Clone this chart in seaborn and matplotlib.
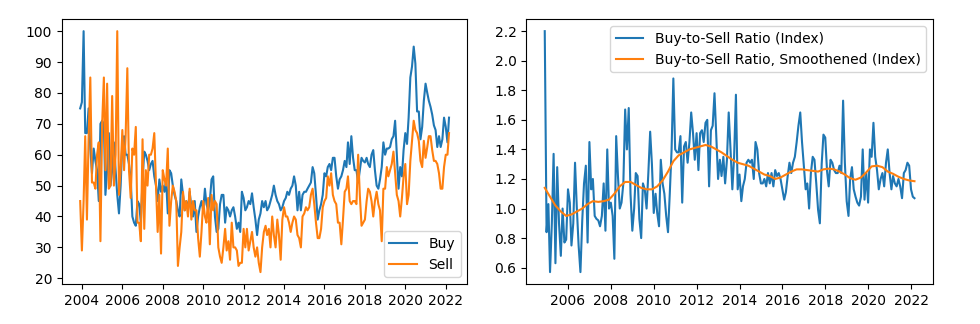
import numpy as np
import pandas as pd
import matplotlib
matplotlib.use("Agg")
import matplotlib.pyplot as plt
import seaborn as sns

# ---------------- data ----------------
buy = [
    75, 77, 100, 67, 67, 75, 62, 54, 62, 58,
    55, 45, 70, 71, 70, 47, 55, 67, 50, 55,
    64, 55, 47, 41, 50, 64, 66, 60, 60, 57,
    52, 40, 38, 37, 45, 44, 38, 52, 61, 60,
    58, 55, 57, 58, 53, 50, 45, 52, 48, 50,
    48, 52, 41, 55, 54, 50, 47, 45, 42,
    40, 52, 47, 42, 45, 42, 48, 43, 40, 45,
    35, 40, 43, 45, 42, 49, 44, 42, 45, 52,
    53, 40, 35, 36, 44, 47, 47, 38, 43, 42,
    40, 42, 43, 40, 36, 38, 35, 48, 46, 42,
    43, 45,
    44, 47.5, 43, 39, 34, 39, 41, 45, 43, 45,
    42, 43, 45, 47, 50, 47, 45, 44, 42, 43,
    45, 46, 48, 47, 49, 50, 53, 50, 42, 48,
    42, 47, 48, 48, 49, 50, 51, 56, 54, 47,
    39, 42, 44, 47, 54, 53, 56, 57, 55, 59,
    59, 53, 49, 52, 53, 55, 58, 56, 64, 57,
    66, 59, 55, 55, 51, 55, 59, 58, 57.5,
    59, 57, 56, 60, 61.5, 55, 50, 49, 52, 56,
    64, 60, 62, 62, 62.5, 65, 66, 71, 60, 49,
    56, 53, 61.5, 67, 63.5, 72, 85, 88.5, 95, 89.5,
    74, 74, 65, 69, 77.5, 83, 80, 77.5, 75.5, 73,
    69.5, 68, 62.5, 66, 62.5, 65, 72, 69, 64, 72,
]

sell = [
    45, 29, 45, 66, 39, 65, 85, 51, 51, 49,
    60, 64, 32, 70, 85, 55, 83, 49, 50, 79,
    50, 60, 100, 47, 55, 68, 55, 66, 88, 55,
    46, 62, 60, 69, 38, 38, 32, 65, 36, 55,
    50, 60, 60, 62, 67, 50, 35, 47, 28, 55,
    52, 50, 62, 37, 45, 50, 48, 45, 24,
    30, 35, 48, 42, 45, 40, 49, 39, 45, 42,
    42, 33, 27, 35, 45, 40, 38, 46, 31, 47,
    42, 45, 44, 30, 27, 25, 30, 36, 29, 32,
    26, 38, 30, 30, 29, 24, 25, 25, 36, 30,
    36, 29,
    32, 35, 30, 27, 30, 25, 22, 30, 35, 37,
    34, 36, 30, 40, 34, 30, 39, 34, 26, 39,
    43, 40, 40, 38, 35, 38, 40, 39, 34, 33,
    30, 40, 41, 43, 42, 43, 47, 49, 44, 38,
    33, 33, 36, 43, 45, 46, 53, 50, 54, 47,
    45, 44, 38, 38, 31, 39, 48, 49, 53, 45,
    44, 45, 45, 44, 60, 47, 37, 38, 39,
    45, 49, 48, 45, 40, 45, 48, 44, 42, 32,
    49, 49, 56, 53, 55, 57, 61, 54, 47, 45,
    40, 46, 53, 57, 44, 47, 58, 64.5, 71, 68,
    67, 64.5, 58, 56, 64.5, 59, 62.5, 66, 66, 61.5,
    58, 58, 57, 54, 49, 49, 56, 60, 60, 67,
]

ratio = [
    2.2, 0.84, 1.03, 0.57, 0.9, 1.37, 0.63, 1.28, 0.9, 0.68,
    1.0, 0.77, 0.79, 1.13, 1.04, 0.75, 0.9, 1.31, 1.0, 0.75,
    0.57, 0.92, 1.17, 1.29, 0.77, 1.45, 1.13, 1.2, 0.95, 0.93,
    0.92, 0.88, 0.95, 1.17, 0.85, 1.4, 1.0, 1.04, 0.95, 0.66,
    1.49, 1.22, 1.0, 1.04, 1.17, 1.67, 1.4, 1.68, 1.1, 0.85,
    1.0, 1.24, 1.22, 0.93, 0.8, 1.17, 1.13, 1.0, 1.24, 1.52,
    1.3, 0.97, 1.1, 0.97, 0.88, 1.33, 1.17, 1.1, 0.95, 0.84,
    1.1, 1.4, 1.88, 1.4, 1.38, 1.38, 1.49, 1.04, 1.42, 1.45,
    1.31, 1.45, 1.65, 1.51, 1.33, 1.51, 1.26, 1.51, 1.53, 1.45,
    1.58, 1.6, 1.15, 1.53, 1.56, 1.78, 1.49, 1.2, 1.33, 1.22,
    1.35, 1.17, 1.33, 1.65, 1.4, 1.13, 1.35, 1.77, 1.13, 1.23,
    1.05, 1.15, 1.2, 1.31, 1.33, 1.31, 1.33, 1.2, 1.45, 1.4,
    1.24, 1.17, 1.17, 1.2, 1.15, 1.24, 1.17, 1.24, 1.15, 1.26,
    1.22, 1.24, 1.2, 1.13, 1.06, 1.11, 1.22, 1.31, 1.24, 1.31,
    1.35, 1.45, 1.56, 1.65, 1.45, 1.29, 1.13, 1.17, 1.0, 1.24,
    1.35, 1.33, 1.17, 0.99, 0.9, 1.3, 1.5, 1.48, 1.25, 1.15,
    1.33, 1.31, 1.26, 1.24, 1.24, 1.29, 1.24, 1.73, 1.31, 1.05,
    0.95, 1.2, 1.28, 1.13, 1.08, 1.04, 1.02, 1.08, 1.4, 1.06,
    1.24, 1.04, 1.4, 1.35, 1.58, 1.35, 1.26, 1.13, 1.2, 1.24,
    1.15, 1.31, 1.4, 1.24, 1.13, 1.22, 1.17, 1.15, 1.2, 1.15,
    1.07, 1.24, 1.26, 1.31, 1.29, 1.13, 1.08, 1.07,
]

smooth = [
    1.14, 1.08, 1.02, 0.98, 0.95, 0.96, 0.98, 1.0, 1.03, 1.05,
    1.045, 1.05, 1.06, 1.1, 1.15, 1.18, 1.18, 1.16, 1.14, 1.13,
    1.13, 1.15, 1.19, 1.25, 1.32, 1.36, 1.38, 1.40, 1.41, 1.42,
    1.43, 1.42, 1.40, 1.38, 1.355, 1.33, 1.31, 1.30, 1.29, 1.27,
    1.25, 1.23, 1.22, 1.20, 1.21, 1.23, 1.25, 1.265, 1.265, 1.26,
    1.255, 1.25, 1.265, 1.27, 1.265, 1.25, 1.23, 1.205, 1.195, 1.21,
    1.245, 1.285, 1.29, 1.28, 1.25, 1.235, 1.215, 1.2, 1.19, 1.185,
]

bs_dates = pd.date_range("2003-12-01", periods=len(buy), freq="MS")
ratio_dates = pd.date_range("2004-12-01", periods=len(ratio), freq="MS")
smooth_dates = pd.date_range("2004-12-01", periods=len(smooth), freq="3MS")

assert len(buy) == len(sell), (len(buy), len(sell))

df_bs = pd.DataFrame({"date": bs_dates, "Buy": buy, "Sell": sell})
df_r = pd.DataFrame({"date": ratio_dates, "ratio": ratio})
df_s = pd.DataFrame({"date": smooth_dates, "smooth": smooth})

# ---------------- figure ----------------
fig = plt.figure(figsize=(9.8, 3.24), dpi=100)
ax1 = fig.add_axes([0.063, 0.123, 0.414, 0.818])
ax2 = fig.add_axes([0.537, 0.123, 0.415, 0.818])

blue = "#1f77b4"
orange = "#ff7f0e"

sns.lineplot(data=df_bs, x="date", y="Buy", ax=ax1, color=blue, label="Buy", linewidth=1.5)
sns.lineplot(data=df_bs, x="date", y="Sell", ax=ax1, color=orange, label="Sell", linewidth=1.5)
ax1.legend(loc="lower right")

sns.lineplot(data=df_r, x="date", y="ratio", ax=ax2, color=blue,
             label="Buy-to-Sell Ratio (Index)", linewidth=1.5)
sns.lineplot(data=df_s, x="date", y="smooth", ax=ax2, color=orange,
             label="Buy-to-Sell Ratio, Smoothened (Index)", linewidth=1.5)
ax2.legend(loc="upper right")

for ax in (ax1, ax2):
    ax.set_xlabel("")
    ax.set_ylabel("")

fig.savefig("out.png", dpi=100)
